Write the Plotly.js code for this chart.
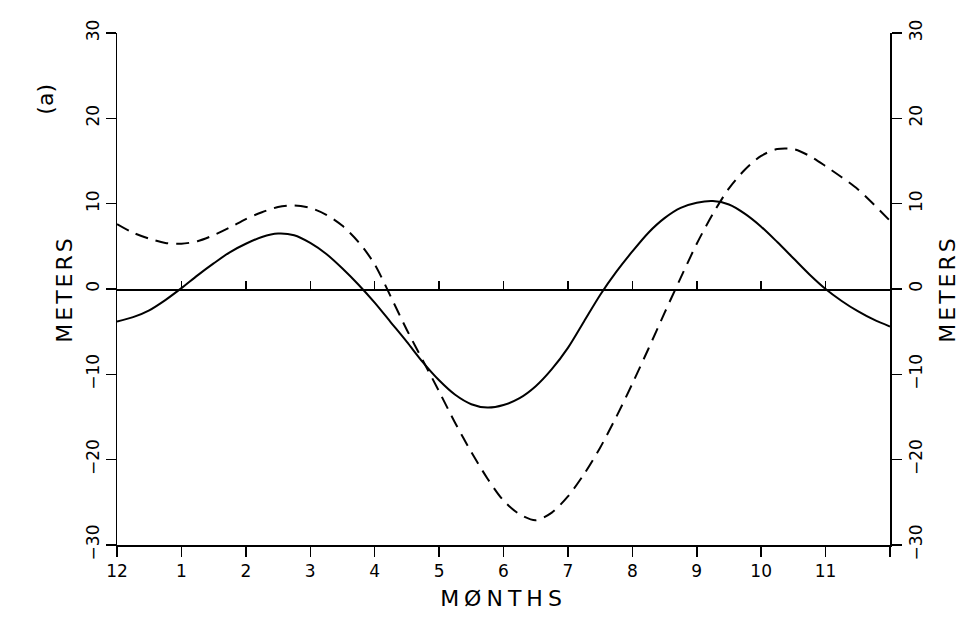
<!DOCTYPE html>
<html>
<head>
<meta charset="utf-8">
<script src="https://cdn.plot.ly/plotly-3.0.1.min.js"></script>
<style>
  html, body { margin: 0; padding: 0; background: #fff; }
  #chart { width: 960px; height: 619px; }
  .xtitle { letter-spacing: 5px; }
  .ytitle, .y2title { letter-spacing: 3px; }
</style>
</head>
<body>
<div id="chart"></div>
<script>
// Month positions (0 = December, 12 = next December), quarter-month steps
const months = [0, 0.25, 0.5, 0.75, 1, 1.25, 1.5, 1.75, 2, 2.25, 2.5, 2.75, 3, 3.25, 3.5, 3.75,
  4, 4.25, 4.5, 4.75, 5, 5.25, 5.5, 5.75, 6, 6.25, 6.5, 6.75, 7, 7.25, 7.5, 7.75,
  8, 8.25, 8.5, 8.75, 9, 9.25, 9.5, 9.75, 10, 10.25, 10.5, 10.75, 11, 11.25, 11.5, 11.75, 12];

const solidMeters = [-3.8, -3.3, -2.5, -1.3, 0.1, 1.6, 3.0, 4.3, 5.3, 6.1, 6.5, 6.3, 5.4, 4.1, 2.4, 0.5,
  -1.6, -3.9, -6.2, -8.6, -10.7, -12.4, -13.5, -13.9, -13.6, -12.8, -11.4, -9.4, -6.9, -3.8, -0.7, 2.0,
  4.4, 6.6, 8.3, 9.5, 10.1, 10.3, 9.9, 8.8, 7.3, 5.5, 3.6, 1.7, 0.0, -1.4, -2.6, -3.6, -4.4];

const dashedMeters = [7.6, 6.6, 5.9, 5.4, 5.3, 5.6, 6.3, 7.2, 8.2, 9.0, 9.6, 9.8, 9.5, 8.7, 7.4, 5.5,
  2.9, -0.9, -4.8, -8.4, -12.0, -15.7, -19.1, -22.2, -24.8, -26.4, -27.1, -26.2, -24.3, -21.7, -18.6, -15.0,
  -11.1, -7.0, -2.8, 1.3, 5.3, 8.8, 11.8, 14.0, 15.6, 16.4, 16.4, 15.6, 14.4, 13.1, 11.7, 9.9, 8.0];

const monthTickVals = [0, 1, 2, 3, 4, 5, 6, 7, 8, 9, 10, 11, 12];
const monthTickText = ['12', '1', '2', '3', '4', '5', '6', '7', '8', '9', '10', '11', ''];
const meterTickVals = [-30, -20, -10, 0, 10, 20, 30];

const font = 'DejaVu Sans, sans-serif';

const traces = [
  {
    x: months, y: solidMeters, type: 'scatter', mode: 'lines',
    line: { color: '#000', width: 2, shape: 'spline', smoothing: 0.8 },
    hoverinfo: 'skip', showlegend: false
  },
  {
    x: months, y: dashedMeters, type: 'scatter', mode: 'lines',
    line: { color: '#000', width: 2, shape: 'spline', smoothing: 0.8, dash: '13px,8px' },
    hoverinfo: 'skip', showlegend: false
  },
  // invisible trace to attach the right axis and the zero-line axis
  {
    x: [0, 12], y: [0, 0], xaxis: 'x2', yaxis: 'y2', mode: 'lines',
    line: { color: 'rgba(0,0,0,0)' }, hoverinfo: 'skip', showlegend: false
  }
];

const layout = {
  width: 960, height: 619,
  margin: { l: 117, r: 70, t: 33, b: 74 },
  paper_bgcolor: '#fff', plot_bgcolor: '#fff',
  font: { family: font, color: '#000', size: 17 },
  showlegend: false,
  xaxis: {
    range: [0, 12], tickvals: monthTickVals, ticktext: monthTickText,
    showgrid: false, zeroline: false, showline: true, linecolor: '#000', linewidth: 1.5,
    ticks: 'outside', ticklen: 10, tickwidth: 1.5, tickcolor: '#000',
    tickfont: { size: 17 },
    title: { text: 'MØNTHS', font: { size: 22 }, standoff: 10 }
  },
  xaxis2: {
    range: [0, 12], tickvals: monthTickVals, overlaying: 'x', anchor: 'free', position: 0.5,
    side: 'bottom', showgrid: false, zeroline: false, showline: true, linecolor: '#000', linewidth: 1.5,
    ticks: 'inside', ticklen: 8, tickwidth: 1.5, tickcolor: '#000', showticklabels: false
  },
  yaxis: {
    range: [-30, 30], tickvals: meterTickVals,
    showgrid: false, zeroline: false, showline: true, linecolor: '#000', linewidth: 1.5,
    ticks: 'outside', ticklen: 10, tickwidth: 1.5, tickcolor: '#000',
    tickangle: -90, tickfont: { size: 17 },
    title: { text: 'METERS', font: { size: 22 }, standoff: 4 }
  },
  yaxis2: {
    range: [-30, 30], tickvals: meterTickVals, overlaying: 'y', side: 'right',
    showgrid: false, zeroline: false, showline: true, linecolor: '#000', linewidth: 1.5,
    ticks: 'outside', ticklen: 10, tickwidth: 1.5, tickcolor: '#000',
    tickangle: -90, tickfont: { size: 17 },
    title: { text: 'METERS', font: { size: 22 }, standoff: 17 }
  },
  annotations: [
    {
      text: '(a)', xref: 'paper', yref: 'paper', x: -0.093, y: 0.87,
      xanchor: 'center', yanchor: 'middle', textangle: -90, showarrow: false,
      font: { size: 22 }
    }
  ]
};

Plotly.newPlot('chart', traces, layout, { displayModeBar: false, staticPlot: true });
</script>
</body>
</html>
